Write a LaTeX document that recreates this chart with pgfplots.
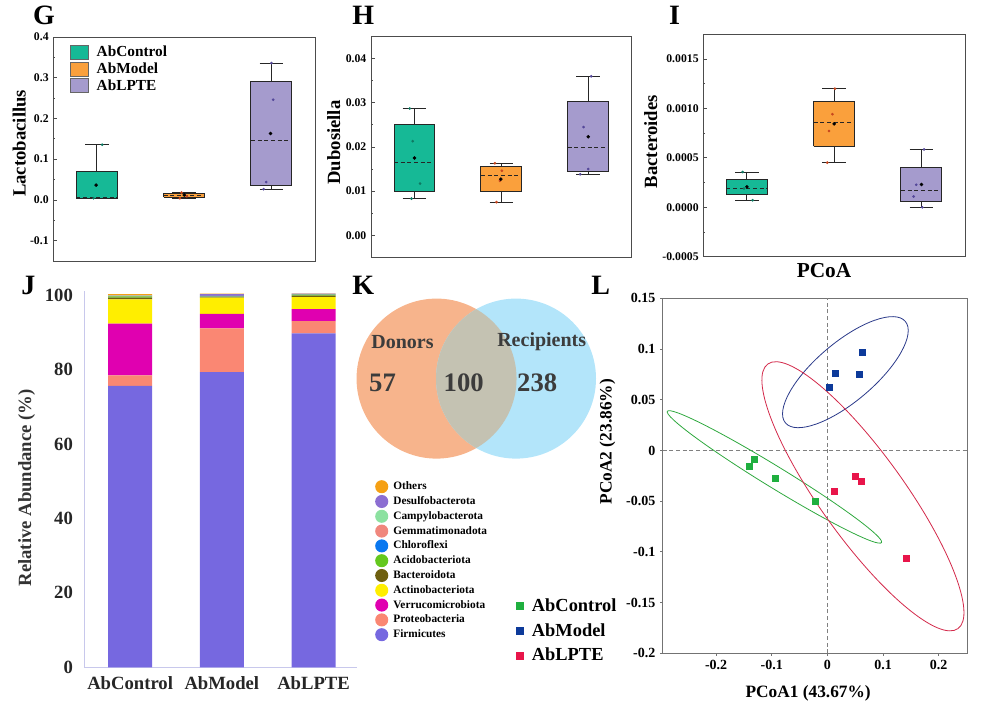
\documentclass[border=0pt]{standalone}
\usepackage{fontspec}
\setmainfont{Liberation Serif}
\usepackage{pgfplots}
\pgfplotsset{compat=1.18}
\newcommand{\fs}[1]{\fontsize{#1}{#1}\selectfont\bfseries}
\definecolor{tealc}{HTML}{16B996}
\definecolor{orangec}{HTML}{FAA03C}
\definecolor{purplec}{HTML}{A59BCD}
\definecolor{tealp}{HTML}{0E7A63}
\definecolor{orangep}{HTML}{C8461E}
\definecolor{purplep}{HTML}{55489A}
\definecolor{cFirm}{HTML}{7668E0}
\definecolor{cProt}{HTML}{FA8773}
\definecolor{cVerr}{HTML}{E000B0}
\definecolor{cActi}{HTML}{FFEE00}
\definecolor{cBact}{HTML}{6E5F0F}
\definecolor{cAcid}{HTML}{64C81E}
\definecolor{cChlo}{HTML}{0A78F0}
\definecolor{cGemm}{HTML}{F0877D}
\definecolor{cCamp}{HTML}{8CE1A0}
\definecolor{cDesu}{HTML}{8C6ED2}
\definecolor{cOthe}{HTML}{F5A014}
\definecolor{pgreen}{HTML}{1FAF3F}
\definecolor{pblue}{HTML}{0D3A9A}
\definecolor{pred}{HTML}{E8154A}
\definecolor{egreen}{HTML}{2EA83E}
\definecolor{eblue}{HTML}{2B3A8A}
\definecolor{ered}{HTML}{D3294A}
\definecolor{vorange}{HTML}{F7B48C}
\definecolor{vblue}{HTML}{B3E5FA}
\definecolor{voverlap}{HTML}{C4C2B2}
\definecolor{vtext}{HTML}{3C3C3C}
\definecolor{jaxis}{HTML}{C8C8EC}
\pgfplotsset{
  boxstyle/.style={
    scale only axis, anchor=south west,
    xmin=0.5, xmax=3.5, xtick=\empty,
    ytick pos=left, tick align=inside,
    minor y tick num=1,
    major tick length=3pt, minor tick length=1.6pt,
    axis line style={draw=black!70, line width=0.6pt},
    tick style={black!70, line width=0.6pt},
    tick label style={font=\fs{8.8}},
    scaled y ticks=false,
    /pgf/number format/assume math mode=true,
    /pgf/number format/fixed, /pgf/number format/fixed zerofill,
    ylabel style={font=\fs{14}, anchor=center},
    unbounded coords=jump,
    clip=false,
  },
  wh/.style={black!85, line width=0.7pt, forget plot},
  md/.style={black!85, densely dashed, line width=0.7pt, forget plot},
  mn/.style={only marks, mark=*, mark size=1.1pt, black, forget plot},
  pt/.style={only marks, mark=*, mark size=0.8pt, forget plot},
}
% #1 position, #2 lower whisker, #3 lower quartile, #4 median, #5 upper quartile, #6 upper whisker, #7 fill colour
\newcommand{\boxp}[7]{%
  \pgfmathsetmacro\bL{#1-0.235}\pgfmathsetmacro\bR{#1+0.235}%
  \pgfmathsetmacro\cL{#1-0.135}\pgfmathsetmacro\cR{#1+0.135}%
  \addplot[wh] coordinates {(#1,#5) (#1,#6) (#1,nan) (\cL,#6) (\cR,#6) (#1,nan) (#1,#3) (#1,#2) (#1,nan) (\cL,#2) (\cR,#2)};
  \addplot[fill=#7, draw=black!85, line width=0.7pt, line join=miter, forget plot] coordinates {(\bL,#3) (\bR,#3) (\bR,#5) (\bL,#5) (\bL,#3)};
  \addplot[md] coordinates {(\bL,#4) (\bR,#4)};
}
\begin{document}
\begin{tikzpicture}
\path[use as bounding box] (0,0) rectangle (735.75pt,530.25pt);

% ---------------- G ----------------
\begin{axis}[boxstyle, at={(40.0pt,334.5pt)}, width=196.3pt, height=168pt,
  ymin=-0.15, ymax=0.4, ytick={-0.1,0,0.1,0.2,0.3,0.4},
  /pgf/number format/precision=1,
  ylabel={Lactobacillus},
  ylabel style={at={(axis description cs:-0.130,0.525)}},
  legend style={at={(axis description cs:0.064,0.964)}, anchor=north west, draw=none, fill=none,
    font=\fs{11.5}, inner sep=0pt, outer sep=0pt, row sep=1.5pt,
    nodes={inner sep=0pt},
    /tikz/every odd column/.append style={column sep=5.8pt}},
  legend cell align=left,
  legend image code/.code={\draw[#1] (0pt,-5.25pt) rectangle (13.7pt,5.25pt);},
]
\addlegendimage{fill=tealc, draw=black!60, line width=0.5pt}
\addlegendentry{AbControl}
\addlegendimage{fill=orangec, draw=black!60, line width=0.5pt}
\addlegendentry{AbModel}
\addlegendimage{fill=purplec, draw=black!60, line width=0.5pt}
\addlegendentry{AbLPTE}
\boxp{1}{0.003}{0.0045}{0.006}{0.069}{0.136}{tealc}
\boxp{2}{0.003}{0.0066}{0.012}{0.0165}{0.019}{orangec}
\boxp{3}{0.0264}{0.035}{0.145}{0.291}{0.336}{purplec}
\addplot[pt, tealp] coordinates {(1.06,0.1355) (0.96,0.0041)};
\addplot[pt, orangep] coordinates {(1.97,0.018) (2.03,0.009) (1.95,0.004)};
\addplot[pt, purplep] coordinates {(3.0,0.336) (3.02,0.246) (2.94,0.0438) (2.91,0.0264)};
\addplot[mn] coordinates {(0.99,0.0364) (2.0,0.012) (2.99,0.163)};
\end{axis}

% ---------------- H ----------------
\begin{axis}[boxstyle, at={(278.25pt,337.3pt)}, width=195.5pt, height=165.5pt,
  ymin=-0.005, ymax=0.045, ytick={0,0.01,0.02,0.03,0.04},
  /pgf/number format/precision=2,
  ylabel={Dubosiella},
  ylabel style={at={(axis description cs:-0.143,0.520)}},
]
\boxp{1}{0.0083}{0.0100}{0.0164}{0.0250}{0.0287}{tealc}
\boxp{2}{0.0075}{0.0098}{0.0135}{0.0155}{0.0163}{orangec}
\boxp{3}{0.0138}{0.0144}{0.0198}{0.0303}{0.0360}{purplec}
\addplot[pt, tealp] coordinates {(0.946,0.0287) (0.98,0.0213) (1.065,0.0117) (0.966,0.0083)};
\addplot[pt, orangep] coordinates {(1.925,0.0163) (2.006,0.0146) (1.983,0.0123) (1.944,0.0075)};
\addplot[pt, purplep] coordinates {(3.034,0.036) (2.946,0.0245) (3.0,0.0150) (2.908,0.0138)};
\addplot[mn] coordinates {(1.0,0.0175) (1.994,0.0127) (3.0,0.0223)};
\end{axis}

% ---------------- I (values in units of 0.001) ----------------
\begin{axis}[boxstyle, at={(527.5pt,337.7pt)}, width=196.3pt, height=166.8pt,
  ymin=-0.5, ymax=1.75, ytick={-0.5,0,0.5,1,1.5},
  yticklabels={-0.0005,0.0000,0.0005,0.0010,0.0015},
  ylabel={Bacteroides},
  ylabel style={at={(axis description cs:-0.2006,0.517)}},
]
\boxp{1}{0.0714}{0.129}{0.194}{0.286}{0.357}{tealc}
\boxp{2}{0.452}{0.616}{0.857}{1.075}{1.2}{orangec}
\boxp{3}{0.0}{0.0578}{0.17}{0.405}{0.585}{purplec}
\addplot[pt, tealp] coordinates {(0.95,0.357) (0.966,0.19) (1.065,0.0714)};
\addplot[pt, orangep] coordinates {(2.008,1.2) (1.98,0.942) (1.94,0.772) (1.92,0.452)};
\addplot[pt, purplep] coordinates {(3.03,0.585) (2.94,0.228) (2.91,0.109) (3.01,0.0)};
\addplot[mn] coordinates {(1.0,0.207) (2.0,0.844) (3.0,0.231)};
\end{axis}

% ---------------- J ----------------
\begin{axis}[at={(63.2pt,29.8pt)}, anchor=south west, scale only axis, width=204.3pt, height=282pt,
  ybar stacked, bar width=0.48,
  xmin=0.5, xmax=3.47, ymin=0, ymax=101,
  xtick={1,2,3}, xticklabels={AbControl,AbModel,AbLPTE},
  ytick={0,20,40,60,80,100},
  major tick length=0pt,
  axis lines*=left,
  axis line style={draw=jaxis, line width=0.8pt},
  tick label style={font=\fs{14}, text=black!85},
  yticklabel style={xshift=-5pt},
  xticklabel style={yshift=-3.5pt},
  /pgf/number format/assume math mode=true,
  ylabel={Relative Abundance (\%)},
  ylabel style={at={(axis description cs:-0.212,0.477)}, anchor=center, font=\fs{14}, text=black!80},
  legend style={at={(axis description cs:1.068,0.4976)}, anchor=north west, draw=none, fill=none,
    font=\fs{8.5}, inner sep=0pt, outer sep=0pt, row sep=1.3pt,
    nodes={inner sep=0pt},
    /tikz/every odd column/.append style={column sep=3.8pt}},
  legend cell align=left,
  reverse legend,
  legend image code/.code={\fill[#1] (4.9pt,0pt) circle (4.9pt);},
  clip=false,
]
\addplot[fill=cFirm, draw=none] coordinates {(1,75.6) (2,79.3) (3,89.7)};
\addlegendentry{Firmicutes}
\addplot[fill=cProt, draw=none] coordinates {(1,2.8) (2,11.7) (3,3.3)};
\addlegendentry{Proteobacteria}
\addplot[fill=cVerr, draw=none] coordinates {(1,13.9) (2,3.9) (3,3.2)};
\addlegendentry{Verrucomicrobiota}
\addplot[fill=cActi, draw=none] coordinates {(1,6.5) (2,4.4) (3,3.2)};
\addlegendentry{Actinobacteriota}
\addplot[fill=cBact, draw=none] coordinates {(1,0.5) (2,0.2) (3,0.4)};
\addlegendentry{Bacteroidota}
\addplot[fill=cAcid, draw=none] coordinates {(1,0.3) (2,0.05) (3,0.3)};
\addlegendentry{Acidobacteriota}
\addplot[fill=cChlo, draw=none] coordinates {(1,0.05) (2,0.05) (3,0.05)};
\addlegendentry{Chloroflexi}
\addplot[fill=cGemm, draw=none] coordinates {(1,0.1) (2,0.1) (3,0.05)};
\addlegendentry{Gemmatimonadota}
\addplot[fill=cCamp, draw=none] coordinates {(1,0.05) (2,0.05) (3,0.05)};
\addlegendentry{Campylobacterota}
\addplot[fill=cDesu, draw=none] coordinates {(1,0.1) (2,0.5) (3,0.1)};
\addlegendentry{Desulfobacterota}
\addplot[fill=cOthe, draw=none] coordinates {(1,0.3) (2,0.1) (3,0.1)};
\addlegendentry{Others}
\end{axis}

% ---------------- L ----------------
\begin{axis}[at={(497.0pt,40.3pt)}, anchor=south west, scale only axis, width=228.75pt, height=266.2pt,
  xmin=-0.296, xmax=0.252, ymin=-0.2, ymax=0.15,
  xtick={-0.2,-0.1,0,0.1,0.2},
  ytick={-0.2,-0.15,-0.1,-0.05,0,0.05,0.1,0.15},
  tick pos=left, tick align=outside, major tick length=2pt,
  axis line style={draw=black!55, line width=0.7pt},
  tick style={black!55, line width=0.6pt},
  tick label style={font=\fs{10.5}},
  /pgf/number format/assume math mode=true,
  /pgf/number format/fixed, /pgf/number format/precision=2,
  title={PCoA}, title style={at={(axis description cs:0.529,1.055)}, anchor=center, font=\fs{16}},
  xlabel={PCoA1 (43.67\%)}, xlabel style={at={(axis description cs:0.477,-0.113)}, anchor=center, font=\fs{13}},
  ylabel={PCoA2 (23.86\%)}, ylabel style={at={(axis description cs:-0.181,0.596)}, anchor=center, font=\fs{13}},
  legend style={at={(axis description cs:-0.4793,0.1538)}, anchor=north west, draw=none, fill=none,
    font=\fs{13.8}, inner sep=0pt, outer sep=0pt, row sep=7.5pt,
    nodes={inner sep=0pt},
    /tikz/every odd column/.append style={column sep=6.4pt}},
  legend cell align=left,
  legend image code/.code={\draw[#1, mark size=2.6pt] plot coordinates {(2.6pt,0pt)};},
  clip=false,
]
\addplot[black!50, densely dashed, line width=0.4pt, forget plot] coordinates {(0,-0.2) (0,0.15)};
\addplot[black!50, densely dashed, line width=0.4pt, forget plot] coordinates {(-0.296,0) (0.252,0)};
\draw[egreen, line width=0.6pt] (axis cs:-0.0952,-0.0261) ellipse [x radius=94.2pt, y radius=8pt, rotate=-31.5];
\draw[eblue, line width=0.6pt] (axis cs:0.0323,0.0772) ellipse [x radius=58.9pt, y radius=22.05pt, rotate=40.3];
\draw[ered, line width=0.6pt] (axis cs:0.0638,-0.0452) ellipse [x radius=122.2pt, y radius=31.5pt, rotate=-54.3];
\addplot[only marks, mark=square*, mark size=2.3pt, pgreen] coordinates {(-0.141,-0.0153) (-0.1308,-0.0091) (-0.0943,-0.0274) (-0.0225,-0.0505)};
\addlegendentry{AbControl}
\addplot[only marks, mark=square*, mark size=2.3pt, pblue] coordinates {(0.0027,0.0619) (0.0141,0.0761) (0.0578,0.0754) (0.062,0.0971)};
\addlegendentry{AbModel}
\addplot[only marks, mark=square*, mark size=2.3pt, pred] coordinates {(0.0117,-0.0403) (0.05,-0.0251) (0.0602,-0.0301) (0.1416,-0.1067)};
\addlegendentry{AbLPTE}
\end{axis}

% ---------------- K (Venn) ----------------
\fill[vorange] (327.4pt,246.3pt) circle (60pt);
\fill[vblue] (387.0pt,246.3pt) circle (60pt);
\begin{scope}
\clip (327.4pt,246.3pt) circle (60pt);
\fill[voverlap] (387.0pt,246.3pt) circle (60pt);
\end{scope}
\node[font=\fs{15}, text=vtext, inner sep=0pt] at (301.9pt,274pt) {Donors};
\node[font=\fs{15}, text=vtext, inner sep=0pt] at (406.3pt,274pt) {Recipients};
\node[font=\fs{20}, text=vtext, inner sep=0pt] at (286.9pt,243.1pt) {57};
\node[font=\fs{20}, text=vtext, inner sep=0pt] at (347.8pt,243.1pt) {100};
\node[font=\fs{20}, text=vtext, inner sep=0pt] at (402.9pt,243.1pt) {238};

% ---------------- panel letters ----------------
\node[font=\fs{21}, inner sep=0pt] at (33.1pt,518.4pt) {G};
\node[font=\fs{21}, inner sep=0pt] at (272.5pt,518.4pt) {H};
\node[font=\fs{21}, inner sep=0pt] at (506.0pt,518.4pt) {I};
\node[font=\fs{21}, inner sep=0pt] at (21.3pt,316.5pt) {J};
\node[font=\fs{21}, inner sep=0pt] at (272.5pt,315.9pt) {K};
\node[font=\fs{21}, inner sep=0pt] at (450.6pt,315.9pt) {L};
\end{tikzpicture}
\end{document}
